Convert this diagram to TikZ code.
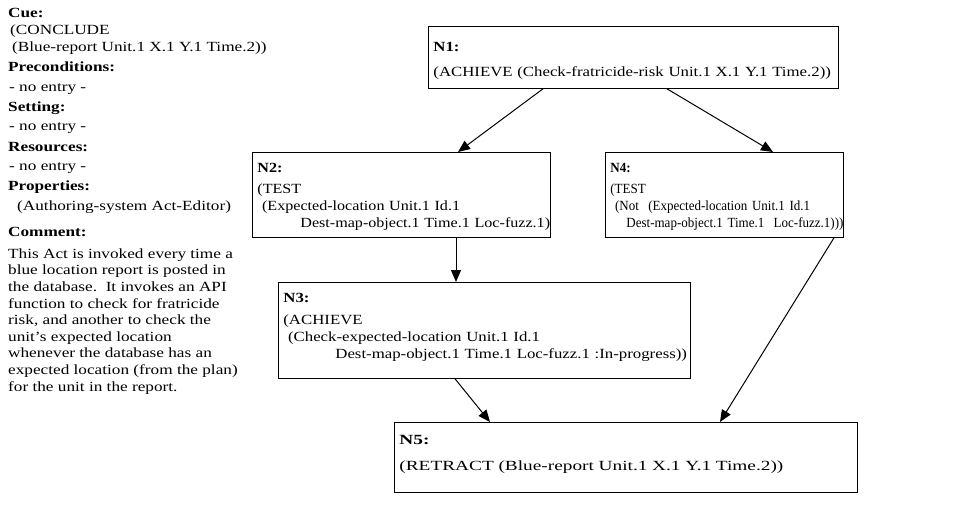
\documentclass[tikz,border=0pt]{standalone}
\usepackage{fontspec}
\setmainfont{Liberation Serif}
\newfontfamily\sidefont{Liberation Serif}[FakeStretch=1.23]
\newfontfamily\boxfont{Liberation Serif}[FakeStretch=1.2]
\newfontfamily\testboxfont{Liberation Serif}[FakeStretch=1.15]
\newfontfamily\narrowboxfont{Liberation Serif}[FakeStretch=0.93]
\newfontfamily\wideboxfont{Liberation Serif}[FakeStretch=1.38]
\usetikzlibrary{calc,arrows.meta}
\tikzset{
	actbox/.style={draw, line width=0.8pt, anchor=north west, align=left, inner xsep=5pt, inner ysep=0pt},
	sidehead/.style={anchor=base west, inner sep=0pt, font=\fontsize{14}{16.6}\sidefont\bfseries},
	sidetext/.style={anchor=base west, inner sep=0pt, align=left, font=\fontsize{14}{16.6}\sidefont},
	link/.style={line width=1pt, -{Triangle[length=12pt,width=10pt]}}
}
\begin{document}
\begin{tikzpicture}[x=1pt, y=-1pt, font=\fontsize{14}{17}\boxfont]
		%%%%% START %%%%%
		\useasboundingbox (0, 0) rectangle (955, 508);
		
		% left column
		\node[sidehead] (cue) at (8, 18) {Cue:};
		\node[sidetext] (cuetext1) at (10, 35) {(CONCLUDE};
		\node[sidetext] (cuetext2) at (12, 52) {(Blue-report Unit.1 X.1 Y.1 Time.2))};
		\node[sidehead] (pre) at (8, 72) {Preconditions:};
		\node[sidetext] (pretext) at (9, 92) {- no entry -};
		\node[sidehead] (set) at (8, 112) {Setting:};
		\node[sidetext] (settext) at (9, 131) {- no entry -};
		\node[sidehead] (res) at (8, 151) {Resources:};
		\node[sidetext] (restext) at (9, 170) {- no entry -};
		\node[sidehead] (prop) at (8, 190) {Properties:};
		\node[sidetext] (proptext) at (17, 210) {(Authoring-system Act-Editor)};
		\node[sidehead] (com) at (8, 236) {Comment:};
		\node[sidetext, anchor=north west] (comtext) at (8, 246) {\rule{0pt}{12pt}This Act is invoked every time a\\
			blue location report is posted in\\
			the database.\ \ It invokes an API\\
			function to check for fratricide\\
			risk, and another to check the\\
			unit’s expected location\\
			whenever the database has an\\
			expected location (from the plan)\\
			for the unit in the report.};
		
		% plan nodes
		\node[actbox, text width=400pt] (n1) at (428, 26)
			{\rule{0pt}{25pt}\textbf{N1:}\\[8pt]\mbox{(ACHIEVE (Check-fratricide-risk Unit.1 X.1 Y.1 Time.2))}\rule[-12pt]{0pt}{12pt}};
		\node[actbox, text width=288pt, font=\fontsize{14}{17}\testboxfont] (n2) at (252, 152)
			{\rule{0pt}{20pt}\textbf{N2:}\\[4pt](TEST\\\ (Expected-location Unit.1 Id.1\\\mbox{\hspace*{43pt}Dest-map-object.1 Time.1 Loc-fuzz.1)}\rule[-10pt]{0pt}{10pt}};
		\node[actbox, text width=228pt, font=\fontsize{14}{17}\narrowboxfont] (n4) at (605, 152)
			{\rule{0pt}{20pt}\textbf{N4:}\\[4pt](TEST\\\ (Not\ \ (Expected-location Unit.1 Id.1\\\mbox{\hspace*{16pt}Dest-map-object.1 Time.1\ \ Loc-fuzz.1)))}\rule[-10pt]{0pt}{10pt}};
		\node[actbox, text width=402pt] (n3) at (278, 282)
			{\rule{0pt}{20pt}\textbf{N3:}\\[5pt](ACHIEVE\\\ (Check-expected-location Unit.1 Id.1\\\mbox{\hspace*{52pt}Dest-map-object.1 Time.1 Loc-fuzz.1 :In-progress))}\rule[-20pt]{0pt}{20pt}};
		\node[actbox, text width=453pt, font=\fontsize{14}{17}\wideboxfont] (n5) at (394, 422)
			{\rule{0pt}{22pt}\textbf{N5:}\\[9pt]\mbox{(RETRACT (Blue-report Unit.1 X.1 Y.1 Time.2))}\rule[-22pt]{0pt}{22pt}};
		
		% links
		\draw[link] ($(n1.south west)+(115, 0)$) -- ($(n2.north west)+(206, 0)$);
		\draw[link] ($(n1.south west)+(239, 0)$) -- ($(n4.north west)+(168, 0)$);
		\draw[link] ($(n2.south west)+(204, 0)$) -- ($(n3.north west)+(178, 0)$);
		\draw[link] ($(n3.south west)+(177, 0)$) -- ($(n5.north west)+(96, 0)$);
		\draw[link] ($(n4.south west)+(229, 0)$) -- ($(n5.north west)+(326, 0)$);
		%%%%% END %%%%%
\end{tikzpicture}
\end{document}
